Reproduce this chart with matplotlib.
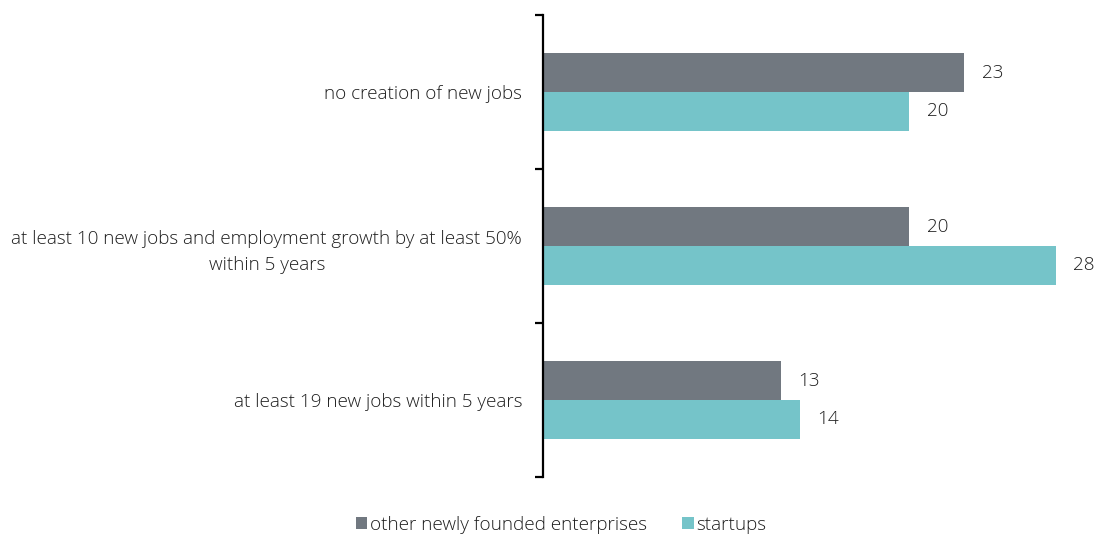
import matplotlib
matplotlib.use("Agg")
import matplotlib.pyplot as plt
import numpy as np

categories = [
    "no creation of new jobs",
    "at least 10 new jobs and employment growth by at least 50%\nwithin 5 years",
    "at least 19 new jobs within 5 years",
]
series_names = ["other newly founded enterprises", "startups"]
other_values = [23, 20, 13]
startup_values = [20, 28, 14]
colors = ["#717880", "#75C4C9"]

plt.rcParams["font.family"] = ["Open Sans", "DejaVu Sans"]
plt.rcParams["font.weight"] = "light"
text_color = "#1e1e1e"
fs = 13.6

fig = plt.figure(figsize=(10.96, 5.36), dpi=100)
ax = fig.add_axes([543 / 1096, 1 - 477 / 536, 0.997 - 543 / 1096, 462 / 536])

y = np.arange(len(categories))
h = 0.253
ax.barh(y - h / 2, other_values, height=h, color=colors[0], label=series_names[0])
ax.barh(y + h / 2, startup_values, height=h, color=colors[1], label=series_names[1])

for yi, (a, b) in enumerate(zip(other_values, startup_values)):
    ax.annotate(str(a), (a, yi - h / 2), xytext=(12.5, 0), textcoords="offset points",
                ha="left", va="center", fontsize=fs, color=text_color)
    ax.annotate(str(b), (b, yi + h / 2), xytext=(12.5, 0), textcoords="offset points",
                ha="left", va="center", fontsize=fs, color=text_color)

ax.set_xlim(0, 30)
ax.set_ylim(len(categories) - 0.5, -0.5)

# Category boundaries as ticks on the left spine, labels centred in each band
ax.set_yticks(np.arange(-0.5, len(categories), 1.0))
ax.set_yticklabels([])
ax.set_yticks(y, minor=True)
ax.set_yticklabels(categories, minor=True, fontsize=fs, color=text_color,
                   multialignment="center", linespacing=1.55)
ax.tick_params(axis="y", which="major", length=6, width=1.6, direction="out", color="black")
ax.tick_params(axis="y", which="minor", length=0, pad=15)

ax.set_xticks([])
for s in ["top", "right", "bottom"]:
    ax.spines[s].set_visible(False)
ax.spines["left"].set_linewidth(1.6)
ax.spines["left"].set_color("black")

leg = fig.legend(loc="center", bbox_to_anchor=(561 / 1096, 1 - 525 / 536), ncol=2,
                 frameon=False, fontsize=fs, handlelength=0.6, handleheight=0.6,
                 handletextpad=0.12, columnspacing=1.9, labelcolor=text_color)

fig.savefig("out.png", dpi=100)
